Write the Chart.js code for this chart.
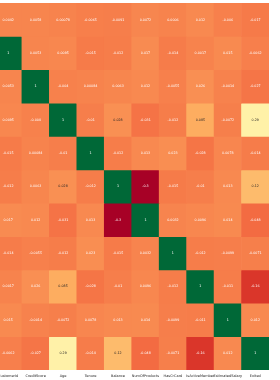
<!DOCTYPE html>
<html>
  <head>
    <meta charset="utf-8">
    <title>Correlation heatmap</title>
    <script src="https://cdn.jsdelivr.net/npm/chart.js@4.4.0/dist/chart.umd.min.js"></script>
    <style>
      html,
      body {
        margin: 0;
        padding: 0;
        background: #fff;
        overflow: hidden;
      }

      #heat {
        position: absolute;
        left: -33px;
        top: 0;
      }
    </style>
  </head>

  <body>
    <canvas id="heat" width="302" height="380"></canvas>

    <script>
      // columns / rows of the correlation matrix (RowNumber column is cropped off on the left)
      const labels = ['RowNumber', 'CustomerId', 'CreditScore', 'Age', 'Tenure', 'Balance',
        'NumOfProducts', 'HasCrCard', 'IsActiveMember', 'EstimatedSalary', 'Exited'];

      const rowNumber = [1, 0.0042, 0.0058, 0.00078, -0.0065, -0.0091, 0.0072, 0.0006, 0.012, -0.006, -0.017];
      const customerId = [0.0042, 1, 0.0053, 0.0095, -0.015, -0.012, 0.017, -0.014, 0.0017, 0.015, -0.0062];
      const creditScore = [0.0058, 0.0053, 1, -0.004, 0.00084, 0.0063, 0.012, -0.0055, 0.026, -0.0014, -0.027];
      const age = [0.00078, 0.0095, -0.004, 1, -0.01, 0.028, -0.031, -0.012, 0.085, -0.0072, 0.29];
      const tenure = [-0.0065, -0.015, 0.00084, -0.01, 1, -0.012, 0.013, 0.023, -0.028, 0.0078, -0.014];
      const balance = [-0.0091, -0.012, 0.0063, 0.028, -0.012, 1, -0.3, -0.015, -0.01, 0.013, 0.12];
      const numOfProducts = [0.0072, 0.017, 0.012, -0.031, 0.013, -0.3, 1, 0.0032, 0.0096, 0.014, -0.048];
      const hasCrCard = [0.0006, -0.014, -0.0055, -0.012, 0.023, -0.015, 0.0032, 1, -0.012, -0.0099, -0.0071];
      const isActiveMember = [0.012, 0.0017, 0.026, 0.085, -0.028, -0.01, 0.0096, -0.012, 1, -0.011, -0.16];
      const estimatedSalary = [-0.006, 0.015, -0.0014, -0.0072, 0.0078, 0.013, 0.014, -0.0099, -0.011, 1, 0.012];
      const exited = [-0.017, -0.0062, -0.027, 0.29, -0.014, 0.12, -0.048, -0.0071, -0.16, 0.012, 1];

      const rows = [rowNumber, customerId, creditScore, age, tenure, balance,
        numOfProducts, hasCrCard, isActiveMember, estimatedSalary, exited];

      const vmin = -0.304;
      const vmax = 1;

      // RdYlGn
      const stops = ['#a50026', '#d73027', '#f46d43', '#fdae61', '#fee08b', '#ffffbf',
        '#d9ef8b', '#a6d96a', '#66bd63', '#1a9850', '#006837'].map(function (h) {
          return [parseInt(h.substr(1, 2), 16), parseInt(h.substr(3, 2), 16), parseInt(h.substr(5, 2), 16)];
        });

      function cmap(v) {
        let t = (v - vmin) / (vmax - vmin);
        t = Math.max(0, Math.min(1, t)) * (stops.length - 1);
        const i = Math.min(Math.floor(t), stops.length - 2);
        const f = t - i;
        return stops[i].map(function (c, k) { return c + (stops[i + 1][k] - c) * f; });
      }

      function lum(rgb) {
        const lin = rgb.map(function (c) {
          c = c / 255;
          return c <= 0.03928 ? c / 12.92 : Math.pow((c + 0.055) / 1.055, 2.4);
        });
        return 0.2126 * lin[0] + 0.7152 * lin[1] + 0.0722 * lin[2];
      }

      function rgbStr(rgb) {
        return 'rgb(' + rgb.map(Math.round).join(',') + ')';
      }

      const datasets = rows.map(function (r, i) {
        return {
          label: labels[i],
          data: r.map(function () { return 1; }),
          corr: r,
          backgroundColor: r.map(function (v) { return rgbStr(cmap(v)); }),
          borderWidth: 0,
          barPercentage: 1,
          categoryPercentage: 1
        };
      });

      const annotate = {
        id: 'annotate',
        afterDatasetsDraw: function (chart) {
          const ctx = chart.ctx;
          ctx.save();
          ctx.font = '3.3px "DejaVu Sans"';
          ctx.textAlign = 'center';
          ctx.textBaseline = 'middle';
          chart.data.datasets.forEach(function (ds, di) {
            const meta = chart.getDatasetMeta(di);
            meta.data.forEach(function (el, j) {
              const v = ds.corr[j];
              ctx.fillStyle = lum(cmap(v)) > 0.406 ? '#262626' : '#ffffff';
              ctx.fillText(String(parseFloat(v.toPrecision(2))), el.x, (el.y + el.base) / 2);
            });
          });
          ctx.restore();
        }
      };

      const chart = new Chart(document.getElementById('heat'), {
        type: 'bar',
        data: { labels: labels, datasets: datasets },
        plugins: [annotate],
        options: {
          responsive: false,
          animation: false,
          devicePixelRatio: 1,
          layout: { padding: { top: 3, left: 0, right: 0, bottom: 0 } },
          plugins: {
            legend: { display: false },
            tooltip: { enabled: false }
          },
          scales: {
            x: {
              stacked: true,
              grid: { display: false, drawTicks: false },
              border: { display: false },
              afterFit: function (scale) {
                scale.height = 10;
                scale.paddingLeft = 0;
                scale.paddingRight = 0;
              },
              ticks: {
                autoSkip: false,
                maxRotation: 0,
                minRotation: 0,
                padding: 4,
                color: '#262626',
                font: { family: 'DejaVu Sans', size: 3.5 }
              }
            },
            y: {
              stacked: true,
              reverse: true,
              min: 0,
              max: 11,
              display: false
            }
          }
        }
      });
    </script>
  </body>
</html>
